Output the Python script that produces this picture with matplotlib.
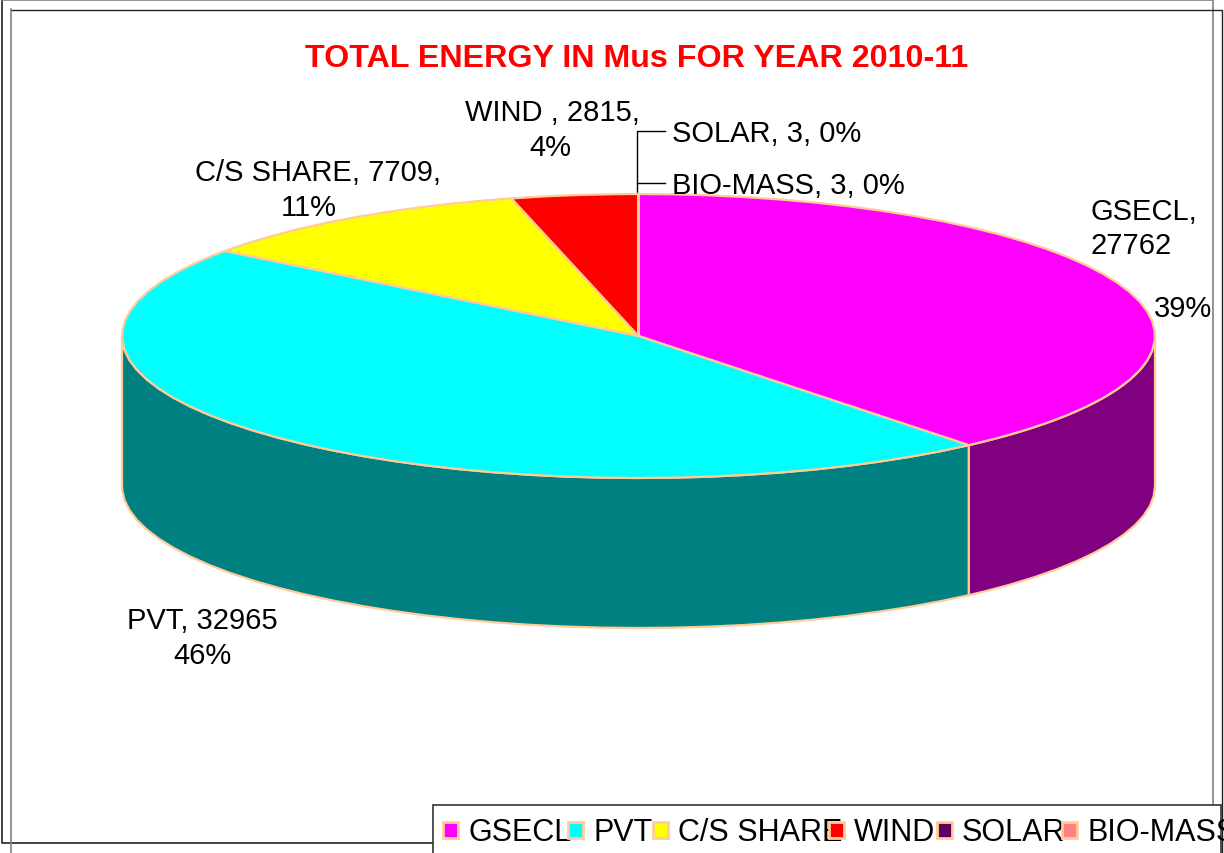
import numpy as np
import matplotlib
matplotlib.use("Agg")
import matplotlib.pyplot as plt
from matplotlib.patches import Polygon, Rectangle

plt.rcParams['font.family'] = ['Liberation Sans', 'DejaVu Sans']

names = ["GSECL", "PVT", "C/S SHARE", "WIND", "SOLAR", "BIO-MASS"]
values = [27762, 32965, 7709, 2815, 3, 3]
top_colors = ["#FF00FF", "#00FFFF", "#FFFF00", "#FF0000", "#5F005F", "#FF8080"]
side_colors = ["#800080", "#008080", "#808000", "#800000", "#300030", "#804040"]
edge = "#FFCC99"

# pie geometry in pixels
cx, cy = 638.5, 337
rx, ry = 516.5, 142
depth = 150

fig = plt.figure(figsize=(12.24, 8.54), dpi=100)
ax = fig.add_axes([0, 0, 1, 1])
ax.set_xlim(0, 1224)
ax.set_ylim(854, 0)
ax.axis("off")

# double page frame
ax.plot([1.5, 1.5, 433], [0, 844, 844], color="#222222", lw=1.2)
ax.plot([1.5, 1213, 1213], [1, 1, 854], color="#808080", lw=1.2)
ax.plot([11, 1222, 1222], [10.5, 10.5, 854], color="#222222", lw=1.0)
ax.plot([11, 11], [10, 854], color="#808080", lw=1.2)


def rim(a0, a1):
    # the source outline is faceted, so a coarse step is kept on purpose
    t = np.radians(np.arange(a0, a1, 4).tolist() + [a1])
    return cx + rx * np.sin(t), cy - ry * np.cos(t)


fractions = np.array(values) / sum(values)
ends = np.cumsum(fractions) * 360
starts = ends - fractions * 360

# sides first, only the front half of the rim shows
for a0, a1, c in zip(starts, ends, side_colors):
    lo, hi = max(a0, 90), min(a1, 270)
    if hi <= lo:
        continue
    x, y = rim(lo, hi)
    pts = np.r_[np.c_[x, y], np.c_[x[::-1], y[::-1] + depth]]
    ax.add_patch(Polygon(pts, closed=True, fc=c, ec=edge, lw=1.6, zorder=2))

# top face
for a0, a1, c in zip(starts, ends, top_colors):
    x, y = rim(a0, a1)
    pts = np.r_[[[cx, cy]], np.c_[x, y]]
    ax.add_patch(Polygon(pts, closed=True, fc=c, ec=edge, lw=1.6, zorder=3))

# title and data labels
ax.text(637, 59, "TOTAL ENERGY IN Mus FOR YEAR 2010-11", color="#FF0000",
        fontsize=23.2, fontweight="bold", ha="center", va="center")

fs = 21
ax.text(552, 113, "WIND , 2815,", fontsize=fs, ha="center", va="center")
ax.text(550, 148, "4%", fontsize=fs, ha="center", va="center")
ax.text(318, 173, "C/S SHARE, 7709,", fontsize=fs, ha="center", va="center")
ax.text(309, 208, "11%", fontsize=fs, ha="center", va="center")
ax.text(672, 134, "SOLAR, 3, 0%", fontsize=fs, ha="left", va="center")
ax.text(672, 186, "BIO-MASS, 3, 0%", fontsize=fs, ha="left", va="center")
ax.text(1090, 212, "GSECL,", fontsize=fs, ha="left", va="center")
ax.text(1090, 246, "27762", fontsize=fs, ha="left", va="center")
ax.text(1154, 309, "39%", fontsize=fs, ha="left", va="center", zorder=5)
ax.text(202, 621, "PVT, 32965", fontsize=fs, ha="center", va="center")
ax.text(202, 656, "46%", fontsize=fs, ha="center", va="center")

# leader lines for the two tiny slices
ax.plot([665, 637, 637], [132, 132, 195], color="black", lw=1.0, zorder=1)
ax.plot([637, 665], [184, 184], color="black", lw=1.0, zorder=1)

# legend, overflows the page on the right as in the source
ax.add_patch(Rectangle((433, 806), 788, 60, fc="white", ec="#333333", lw=1.2, zorder=6))
legend_x = [443, 568, 653, 829, 937, 1062]
for lx, name in zip(legend_x, names):
    ax.text(lx + 25, 833, name, fontsize=22, ha="left", va="center", zorder=7)
for lx, c in zip(legend_x, top_colors):
    ax.add_patch(Rectangle((lx, 823), 15, 16, fc=c, ec=edge, lw=2, zorder=8))

fig.savefig("out.png", dpi=100)
